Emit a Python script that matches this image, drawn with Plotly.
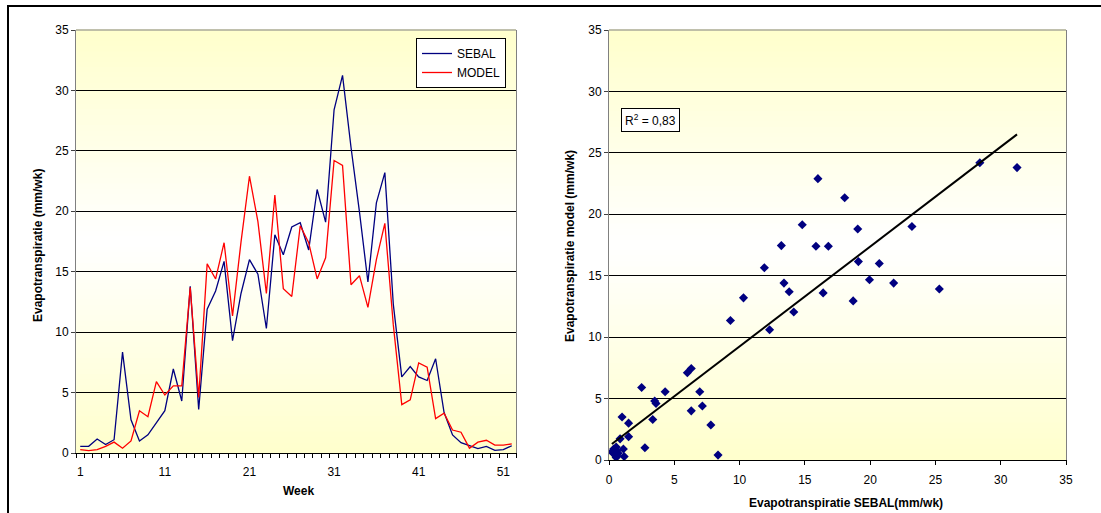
import numpy as np
import plotly.graph_objects as go

# Weekly evapotranspiration (mm/wk): SEBAL estimate vs. model
weeks = list(range(1, 53))
sebal = [0.55, 0.55, 1.16, 0.7, 1.1, 8.35, 2.75, 1.0, 1.5, 2.5,
         3.5, 6.95, 4.3, 13.8, 3.6, 11.9, 13.4, 15.85, 9.3, 13.2,
         16.0, 14.8, 10.3, 18.05, 16.4, 18.7, 19.05, 16.8, 21.8, 19.1,
         28.4, 31.25, 25.3, 19.95, 14.15, 20.7, 23.2, 12.3, 6.3, 7.15,
         6.3, 6.0, 7.8, 3.35, 1.5, 0.85, 0.6, 0.36, 0.55, 0.22,
         0.28, 0.6]
model = [0.28, 0.2, 0.28, 0.55, 0.9, 0.4, 1.0, 3.5, 3.0, 5.9,
         4.8, 5.55, 5.55, 13.7, 4.6, 15.65, 14.4, 17.4, 11.35, 17.45,
         22.9, 19.15, 13.2, 21.35, 13.6, 12.95, 18.8, 17.4, 14.4, 16.15,
         24.2, 23.8, 13.92, 14.67, 12.05, 16.0, 19.0, 10.6, 4.0, 4.4,
         7.45, 7.1, 2.85, 3.3, 1.9, 1.72, 0.4, 0.9, 1.05, 0.65,
         0.65, 0.75]

week_ticks = [1, 11, 21, 31, 41, 51]
et_ticks = [0, 5, 10, 15, 20, 25, 30, 35]

W, H = 1101, 513
FONT = "Liberation Sans, Arial, sans-serif"
NAVY = "#000080"


def fx(p):
    return p / W


def fy(p):
    return 1 - p / H


# Linear trend line of model vs. SEBAL
slope, intercept = np.polyfit(sebal, model, 1)
r2 = np.corrcoef(sebal, model)[0, 1] ** 2
trend_x = np.array([min(sebal), max(sebal)])
trend_y = slope * trend_x + intercept

fig = go.Figure()
fig.add_trace(go.Scatter(x=weeks, y=sebal, mode="lines", name="SEBAL",
                         line=dict(color=NAVY, width=1.3), xaxis="x", yaxis="y"))
fig.add_trace(go.Scatter(x=weeks, y=model, mode="lines", name="MODEL",
                         line=dict(color="#FF0000", width=1.3), xaxis="x", yaxis="y"))
fig.add_trace(go.Scatter(x=sebal, y=model, mode="markers", showlegend=False,
                         marker=dict(symbol="diamond", size=7, color=NAVY),
                         xaxis="x2", yaxis="y2"))
fig.add_trace(go.Scatter(x=trend_x, y=trend_y, mode="lines", showlegend=False,
                         line=dict(color="black", width=2), xaxis="x2", yaxis="y2"))

tickfont = dict(family=FONT, size=12, color="black")
yaxis_common = dict(range=[0, 35], tickmode="array", tickvals=et_ticks,
                    ticks="outside", ticklen=4, tickcolor="#404040",
                    showline=True, linecolor="#808080", linewidth=1, mirror=True,
                    showgrid=True, gridcolor="black", gridwidth=1,
                    zeroline=False, tickfont=tickfont, fixedrange=True,
                    automargin=False)

fig.update_layout(
    width=W, height=H, autosize=False,
    margin=dict(l=0, r=0, t=0, b=0),
    paper_bgcolor="white", plot_bgcolor="#FFFFCC",
    font=dict(family=FONT, size=12, color="black"),
    xaxis=dict(domain=[fx(76), fx(516)], range=[0.5, 52.5],
               tickmode="array", tickvals=week_ticks,
               ticks="outside", ticklen=8, tickcolor="rgba(0,0,0,0)",
               minor=dict(tickmode="array", tickvals=[k + 0.5 for k in range(53)],
                          ticks="outside", ticklen=4, tickcolor="black", showgrid=False),
               showline=True, linecolor="black", linewidth=1,
               showgrid=False, zeroline=False, tickfont=tickfont, anchor="y",
               automargin=False),
    yaxis=dict(domain=[fy(453), fy(30)], anchor="x", **yaxis_common),
    xaxis2=dict(domain=[fx(609), fx(1066)], range=[0, 35],
                tickmode="array", tickvals=et_ticks,
                ticks="outside", ticklen=4, tickcolor="black",
                ticklabelstandoff=5,
                showline=True, linecolor="black", linewidth=1,
                showgrid=False, zeroline=False, tickfont=tickfont, anchor="y2",
                automargin=False),
    yaxis2=dict(domain=[fy(460), fy(30)], anchor="x2", **yaxis_common),
    legend=dict(x=fx(416), y=fy(38), xanchor="left", yanchor="top",
                bgcolor="white", bordercolor="black", borderwidth=1,
                itemwidth=30, tracegroupgap=0,
                font=dict(family=FONT, size=12, color="black")),
    showlegend=True,
)

# Plot-area fill: yellow at top and bottom fading to white in the middle
shapes = []
N = 80
for xr, yr in (("x domain", "y domain"), ("x2 domain", "y2 domain")):
    for i in range(N):
        t = abs((i + 0.5) / N - 0.5) * 2
        b = int(round(255 - 51 * t))
        shapes.append(dict(type="rect", xref=xr, yref=yr, x0=0, x1=1,
                           y0=i / N, y1=(i + 1) / N + 0.002,
                           fillcolor=f"rgb(255,255,{b})", line=dict(width=0),
                           layer="below"))
    # grey top border of the plot area
    shapes.append(dict(type="line", xref=xr, yref=yr, x0=0, x1=1, y0=1, y1=1,
                       line=dict(color="#808080", width=1), layer="above"))

# outer frame
shapes.append(dict(type="rect", xref="paper", yref="paper",
                   x0=fx(8), x1=1.05, y0=-0.1, y1=fy(6),
                   line=dict(color="black", width=2), fillcolor="rgba(0,0,0,0)"))
fig.update_layout(shapes=shapes)

title_font = dict(family=FONT, size=12, color="black")
r2_text = f"R<sup>2</sup> = {r2:.2f}".replace(".", ",")
fig.update_layout(annotations=[
    dict(text="<b>Week</b>", xref="paper", yref="paper", x=fx(298), y=fy(491),
         xanchor="center", yanchor="middle", showarrow=False, font=title_font),
    dict(text="<b>Evapotranspiratie SEBAL(mm/wk)</b>", xref="paper", yref="paper",
         x=fx(846), y=fy(503), xanchor="center", yanchor="middle",
         showarrow=False, font=title_font),
    dict(text="<b>Evapotranspiratie (mm/wk)</b>", xref="paper", yref="paper",
         x=fx(38), y=fy(246), xanchor="center", yanchor="middle",
         textangle=-90, showarrow=False, font=title_font),
    dict(text="<b>Evapotranspiratie model (mm/wk)</b>", xref="paper", yref="paper",
         x=fx(570), y=fy(246), xanchor="center", yanchor="middle",
         textangle=-90, showarrow=False, font=title_font),
    dict(text=r2_text, xref="paper", yref="paper", x=fx(621), y=fy(108),
         xanchor="left", yanchor="top", showarrow=False,
         bgcolor="white", bordercolor="black", borderwidth=1, borderpad=3,
         font=dict(family=FONT, size=12, color="black")),
])

fig.write_html("out.html", post_script="document.body.style.margin='0';")
